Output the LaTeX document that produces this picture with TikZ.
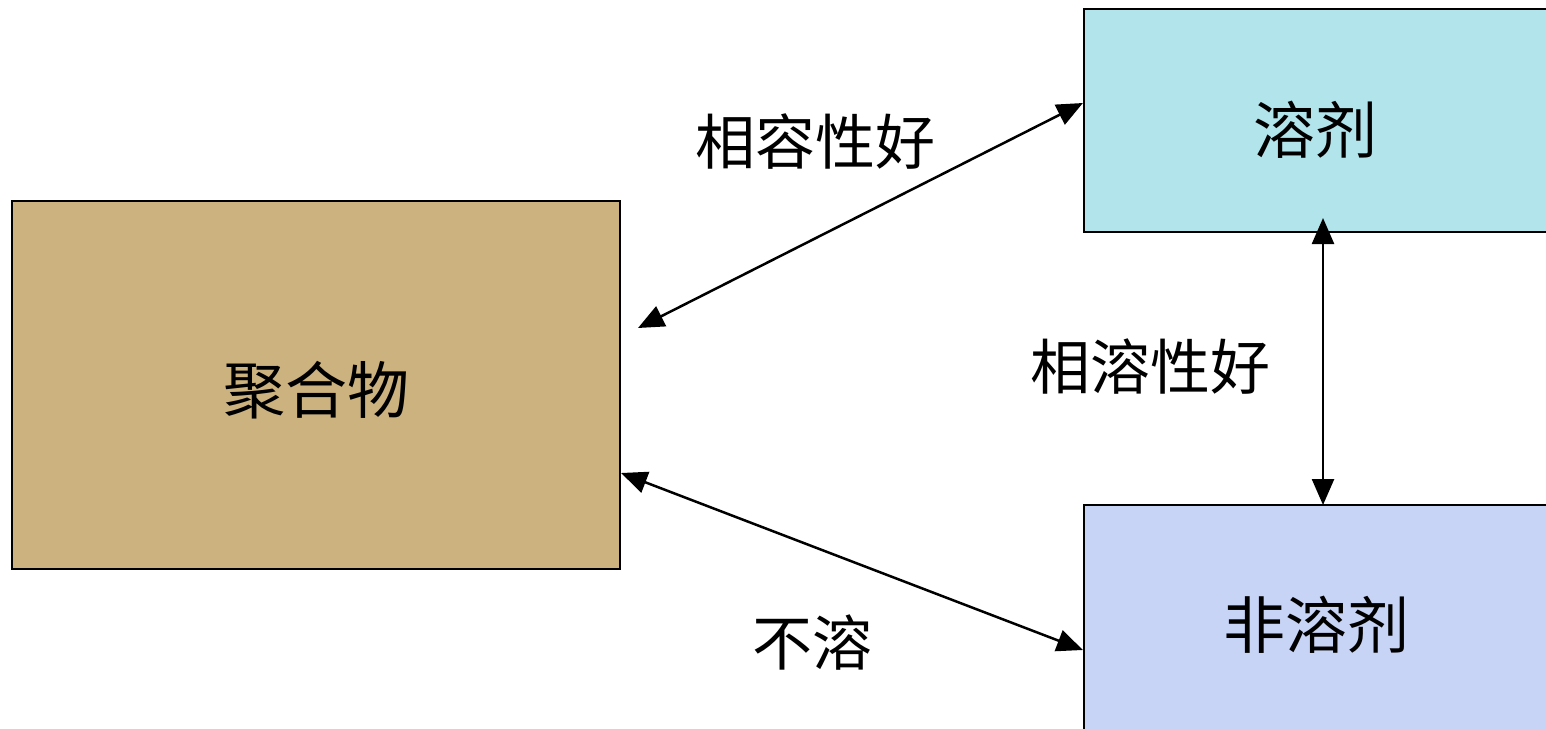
\documentclass[tikz,border=0pt]{standalone}
\usepackage{fontspec}
\newfontfamily\cjk{Noto Sans CJK SC}
\usetikzlibrary{arrows.meta}
\definecolor{burlap}{RGB}{204,178,126}
\definecolor{water}{RGB}{178,228,236}
\definecolor{lav}{RGB}{200,212,245}
\tikzset{
  box/.style={draw=black, line width=2.2pt, inner sep=0pt},
  boxtext/.style={inner sep=0pt, font=\cjk\fontsize{62}{62}\selectfont},
  lbl/.style={inner sep=0pt, font=\cjk\fontsize{60}{60}\selectfont},
  link/.style={line width=2.5pt, {Triangle[length=26pt,width=22pt]}-{Triangle[length=26pt,width=22pt]}}
}
\begin{document}
\begin{tikzpicture}[x=1pt,y=-1pt]
\useasboundingbox (0,0) rectangle (1546,728);
\clip (0,0) rectangle (1546,728);
% boxes
\node[box, fill=burlap, minimum width=608pt, minimum height=368pt] (poly) at (316,385) {};
\node[boxtext] (polyt) at (316,390) {聚合物};
\node[box, fill=water, minimum width=500pt, minimum height=223pt] (solv) at (1334,120.5) {};
\node[boxtext] (solvt) at (1315,130) {溶剂};
\node[box, fill=lav, minimum width=500pt, minimum height=260pt] (nons) at (1334,635) {};
\node[boxtext] (nonst) at (1316,625) {非溶剂};
% endpoints
\coordinate (a1s) at (638,328);
\coordinate (a1e) at (solv.west |- 0,103);
\coordinate (a2s) at (1323,218);
\coordinate (a2e) at (1323,505);
\coordinate (a3s) at (poly.east |- 0,473);
\coordinate (a3e) at (nons.west |- 0,650);
% connectors
\draw[link] (a1s) -- (a1e);
\draw[link] (a2s) -- (a2e);
\draw[link] (a3s) -- (a3e);
% labels
\node[lbl] (l1) at (815,142) {相容性好};
\node[lbl] (l2) at (1150,367) {相溶性好};
\node[lbl] (l3) at (812,643) {不溶};
\end{tikzpicture}
\end{document}
